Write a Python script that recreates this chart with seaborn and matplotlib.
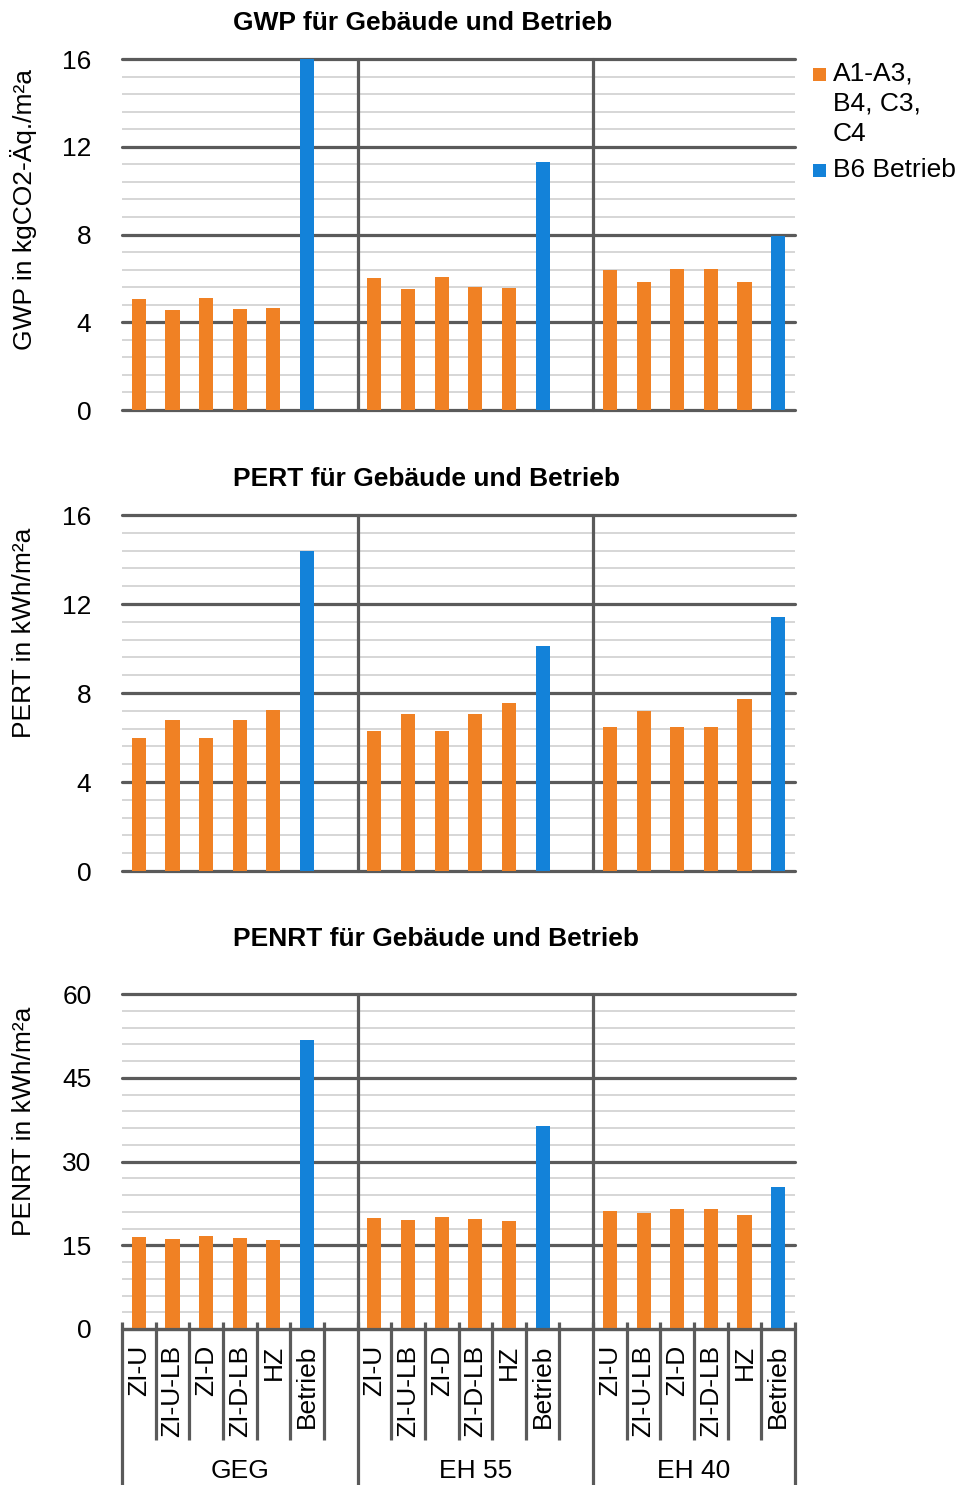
import numpy as np
import pandas as pd
import matplotlib
matplotlib.use("Agg")
import matplotlib.pyplot as plt
import matplotlib.transforms as mtransforms
from matplotlib.patches import Rectangle
from matplotlib.ticker import MultipleLocator
import seaborn as sns

# ---------------- data ----------------
groups = ["GEG", "EH 55", "EH 40"]
variants = ["ZI-U", "ZI-U-LB", "ZI-D", "ZI-D-LB", "HZ", "Betrieb"]
series_build = "A1-A3, B4, C3, C4"
series_op = "B6 Betrieb"

gwp_geg = [5.05, 4.55, 5.1, 4.6, 4.65, 16.0]
gwp_eh55 = [6.0, 5.5, 6.05, 5.6, 5.55, 11.3]
gwp_eh40 = [6.4, 5.85, 6.45, 6.45, 5.85, 7.95]

pert_geg = [6.0, 6.8, 6.0, 6.8, 7.25, 14.4]
pert_eh55 = [6.3, 7.05, 6.3, 7.05, 7.55, 10.1]
pert_eh40 = [6.45, 7.2, 6.45, 6.45, 7.75, 11.4]

penrt_geg = [16.5, 16.1, 16.7, 16.3, 15.9, 51.8]
penrt_eh55 = [19.9, 19.5, 20.1, 19.7, 19.3, 36.4]
penrt_eh40 = [21.1, 20.8, 21.5, 21.5, 20.4, 25.4]

titles = ["GWP für Gebäude und Betrieb", "PERT für Gebäude und Betrieb",
          "PENRT für Gebäude und Betrieb"]
ylabels = ["GWP in kgCO2-Äq./m²a", "PERT in kWh/m²a", "PENRT in kWh/m²a"]
yticks_top = [0, 4, 8, 12, 16]
yticks_penrt = [0, 15, 30, 45, 60]

ORANGE = "#F08124"
BLUE = "#1382D9"
DARK = "#5A5A5A"
LIGHT = "#CBCBCB"

sns.set_style("white")
plt.rcParams["font.family"] = ["Liberation Sans", "DejaVu Sans"]
plt.rcParams["text.color"] = "black"
plt.rcParams["ytick.labelcolor"] = "black"
FS = 19

# slot order including empty gap slots between groups
order = []
for gi, g in enumerate(groups):
    for v in variants:
        order.append(f"{g}|{v}")
    if gi < len(groups) - 1:
        order.append(" " * (gi + 1))


def make_df(vals_by_group):
    rows = []
    for g, vals in zip(groups, vals_by_group):
        for v, val in zip(variants, vals):
            rows.append({"slot": f"{g}|{v}", "value": val,
                         "series": series_op if v == "Betrieb" else series_build})
    return pd.DataFrame(rows)


datasets = [
    make_df([gwp_geg, gwp_eh55, gwp_eh40]),
    make_df([pert_geg, pert_eh55, pert_eh40]),
    make_df([penrt_geg, penrt_eh55, penrt_eh40]),
]
yticks_all = [yticks_top, yticks_top, yticks_penrt]

W, H = 960, 1485
fig = plt.figure(figsize=(W / 100, H / 100), dpi=100)

# axes pixel boxes (top, bottom), title centre y, y-label centre y
boxes = [(59, 410), (515, 871), (994, 1329)]
title_y = [23, 479, 939]
ylabel_y = [210, 633, 1121]
left_px, right_px = 122, 795

axes = []
for i, (top, bot) in enumerate(boxes):
    ax = fig.add_axes([left_px / W, 1 - bot / H, (right_px - left_px) / W, (bot - top) / H])
    axes.append(ax)
    df = datasets[i]
    sns.barplot(data=df, x="slot", y="value", hue="series", order=order,
                hue_order=[series_build, series_op],
                palette=[ORANGE, BLUE], saturation=1, dodge=False, width=0.42,
                linewidth=0, legend=False, ax=ax, zorder=3)
    yt = yticks_all[i]
    ax.set_ylim(yt[0], yt[-1])
    ax.set_xlim(-0.5, len(order) - 0.5)
    ax.set_yticks(yt)
    ax.yaxis.set_minor_locator(MultipleLocator((yt[1] - yt[0]) / 5))
    ax.set_yticklabels([str(t) for t in yt], fontsize=FS, color="black")
    ax.tick_params(axis="y", which="both", length=0, pad=22)
    ax.set_xticks([])
    ax.set_xlabel("")
    ax.set_ylabel("")
    for s in ax.spines.values():
        s.set_visible(False)
    ax.set_axisbelow(True)
    ax.grid(axis="y", which="major", color=DARK, linewidth=2.3, zorder=1)
    ax.grid(axis="y", which="minor", color=LIGHT, linewidth=1.1, zorder=0)
    for ln in ax.get_ygridlines():
        ln.set_clip_on(False)
    # group separators
    for b in [6.5, 13.5]:
        ax.axvline(b, color=DARK, linewidth=2.3, zorder=2, clip_on=False)
    # titles and y labels
    fig.text(233 / W, 1 - title_y[i] / H, titles[i], ha="left", va="center",
             fontsize=FS, fontweight="bold", color="black")
    fig.text(24 / W, 1 - ylabel_y[i] / H, ylabels[i], rotation=90,
             ha="center", va="center", fontsize=FS, color="black")

# multi-level category axis on bottom panel
ax = axes[2]
trans = mtransforms.blended_transform_factory(ax.transData, ax.transAxes)
h_ax = boxes[2][1] - boxes[2][0]
y_tick_top = 7 / h_ax
y_inner_bot = -(1440 - boxes[2][1]) / h_ax
y_group_bot = -(H - boxes[2][1]) / h_ax
y_cat_top = -(1345 - boxes[2][1]) / h_ax
y_group_lbl = -(1471 - boxes[2][1]) / h_ax

for gi, g in enumerate(groups):
    start = gi * 7
    ax.plot([start - 0.5, start - 0.5], [y_tick_top, y_group_bot], color=DARK,
            linewidth=2.3, transform=trans, clip_on=False, solid_capstyle="butt")
    for k in range(1, 7 if gi < len(groups) - 1 else 6):
        ax.plot([start + k - 0.5] * 2, [y_tick_top, y_inner_bot], color=DARK,
                linewidth=2.3, transform=trans, clip_on=False, solid_capstyle="butt")
    for k, v in enumerate(variants):
        ax.text(start + k, y_cat_top, v, rotation=90, ha="center", va="top",
                fontsize=FS, transform=trans, color="black")
    span = 7 if gi < len(groups) - 1 else 6
    ax.text(start + (span - 1) / 2, y_group_lbl, g, ha="center", va="center",
            fontsize=FS, transform=trans, color="black")
ax.plot([len(order) - 0.5] * 2, [y_tick_top, y_group_bot], color=DARK,
        linewidth=2.3, transform=trans, clip_on=False, solid_capstyle="butt")
ax.axhline(0, color=DARK, linewidth=2.3, zorder=4, clip_on=False)

# legend (manual, matching wrapped label layout)
sq = 13
fig.patches.append(Rectangle((813 / W, 1 - (74 + sq / 2) / H), sq / W, sq / H,
                             transform=fig.transFigure, facecolor=ORANGE, edgecolor="none"))
fig.text(833 / W, 1 - 104 / H, "A1-A3,\nB4, C3,\nC4", ha="left", va="center",
         fontsize=FS, linespacing=1.34, color="black")
fig.patches.append(Rectangle((813 / W, 1 - (170 + sq / 2) / H), sq / W, sq / H,
                             transform=fig.transFigure, facecolor=BLUE, edgecolor="none"))
fig.text(833 / W, 1 - 170 / H, series_op, ha="left", va="center", fontsize=FS,
         color="black")

fig.savefig("out.png", dpi=100)
